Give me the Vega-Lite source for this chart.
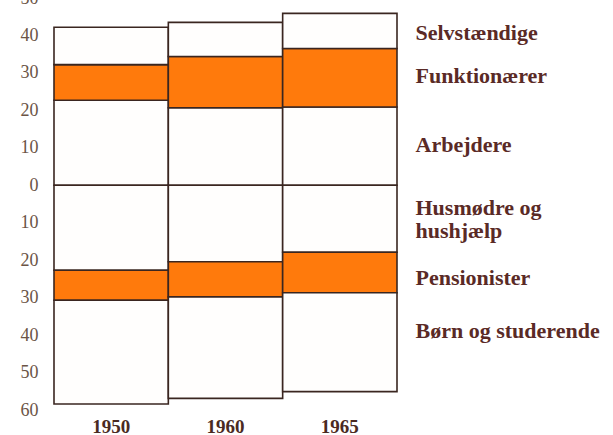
{
  "$schema": "https://vega.github.io/schema/vega-lite/v6.json",
  "width": 343,
  "height": 412,
  "autosize": {"type": "none"},
  "padding": {"left": 54, "top": -2, "right": 216, "bottom": 25},
  "background": "white",
  "config": {"view": {"stroke": null}},
  "data": {
    "values": [
      {"year": "1950", "category": "Arbejdere", "group": "white", "order": 1, "value": 22.7},
      {"year": "1950", "category": "Funktionærer", "group": "orange", "order": 2, "value": 9.5},
      {"year": "1950", "category": "Selvstændige", "group": "white", "order": 3, "value": 10.0},
      {"year": "1950", "category": "Husmødre og hushjælp", "group": "white", "order": 4, "value": -22.7},
      {"year": "1950", "category": "Pensionister", "group": "orange", "order": 5, "value": -8.0},
      {"year": "1950", "category": "Børn og studerende", "group": "white", "order": 6, "value": -27.7},
      {"year": "1960", "category": "Arbejdere", "group": "white", "order": 1, "value": 20.7},
      {"year": "1960", "category": "Funktionærer", "group": "orange", "order": 2, "value": 13.7},
      {"year": "1960", "category": "Selvstændige", "group": "white", "order": 3, "value": 9.1},
      {"year": "1960", "category": "Husmødre og hushjælp", "group": "white", "order": 4, "value": -20.4},
      {"year": "1960", "category": "Pensionister", "group": "orange", "order": 5, "value": -9.4},
      {"year": "1960", "category": "Børn og studerende", "group": "white", "order": 6, "value": -27.1},
      {"year": "1965", "category": "Arbejdere", "group": "white", "order": 1, "value": 20.9},
      {"year": "1965", "category": "Funktionærer", "group": "orange", "order": 2, "value": 15.6},
      {"year": "1965", "category": "Selvstændige", "group": "white", "order": 3, "value": 9.4},
      {"year": "1965", "category": "Husmødre og hushjælp", "group": "white", "order": 4, "value": -17.9},
      {"year": "1965", "category": "Pensionister", "group": "orange", "order": 5, "value": -10.8},
      {"year": "1965", "category": "Børn og studerende", "group": "white", "order": 6, "value": -26.4}
    ]
  },
  "layer": [
    {
      "mark": {"type": "bar", "stroke": "#3a2620", "strokeWidth": 1.6},
      "encoding": {
        "x": {
          "field": "year",
          "type": "nominal",
          "scale": {"paddingInner": 0, "paddingOuter": 0},
          "axis": {
            "title": null,
            "labelAngle": 0,
            "domain": false,
            "ticks": false,
            "labelFont": "Liberation Serif",
            "labelFontWeight": "bold",
            "labelFontSize": 19,
            "labelColor": "#4a2a22",
            "labelPadding": 7
          }
        },
        "y": {
          "field": "value",
          "type": "quantitative",
          "stack": "zero",
          "scale": {"domain": [-60, 50], "nice": false, "zero": false},
          "axis": {
            "title": null,
            "orient": "left",
            "values": [-60, -50, -40, -30, -20, -10, 0, 10, 20, 30, 40, 50],
            "labelExpr": "format(abs(datum.value), 'd')",
            "domain": false,
            "ticks": false,
            "grid": false,
            "labelPadding": 16,
            "labelFont": "Liberation Serif",
            "labelFontSize": 18,
            "labelColor": "#6b5446",
            "labelOverlap": false,
            "labelFlush": false,
            "labelBound": false
          }
        },
        "fill": {
          "field": "group",
          "type": "nominal",
          "scale": {"domain": ["white", "orange"], "range": ["#fffefd", "#ff7a0c"]},
          "legend": null
        },
        "order": {"field": "order", "type": "quantitative"}
      }
    },
    {
      "mark": {"type": "bar", "opacity": 0},
      "encoding": {
        "y": {
          "field": "value",
          "type": "quantitative",
          "stack": "zero",
          "axis": {
            "title": null,
            "orient": "right",
            "values": [40.8, 29.3, 10.9, -5.9, -24.5, -38.7],
            "labelExpr": "datum.value > 35 ? 'Selvstændige' : datum.value > 20 ? 'Funktionærer' : datum.value > 0 ? 'Arbejdere' : datum.value > -15 ? ['Husmødre og', 'hushjælp'] : datum.value > -30 ? 'Pensionister' : 'Børn og studerende'",
            "domain": false,
            "ticks": false,
            "grid": false,
            "labelPadding": 18,
            "labelAlign": "left",
            "labelFont": "Liberation Serif",
            "labelFontWeight": "bold",
            "labelFontSize": 22,
            "labelLineHeight": 23,
            "labelLimit": 400,
            "labelColor": "#5a2a26",
            "labelOverlap": false,
            "labelFlush": false,
            "labelBound": false
          }
        },
        "order": {"field": "order", "type": "quantitative"}
      }
    }
  ],
  "resolve": {"scale": {"y": "shared"}, "axis": {"y": "independent"}}
}
